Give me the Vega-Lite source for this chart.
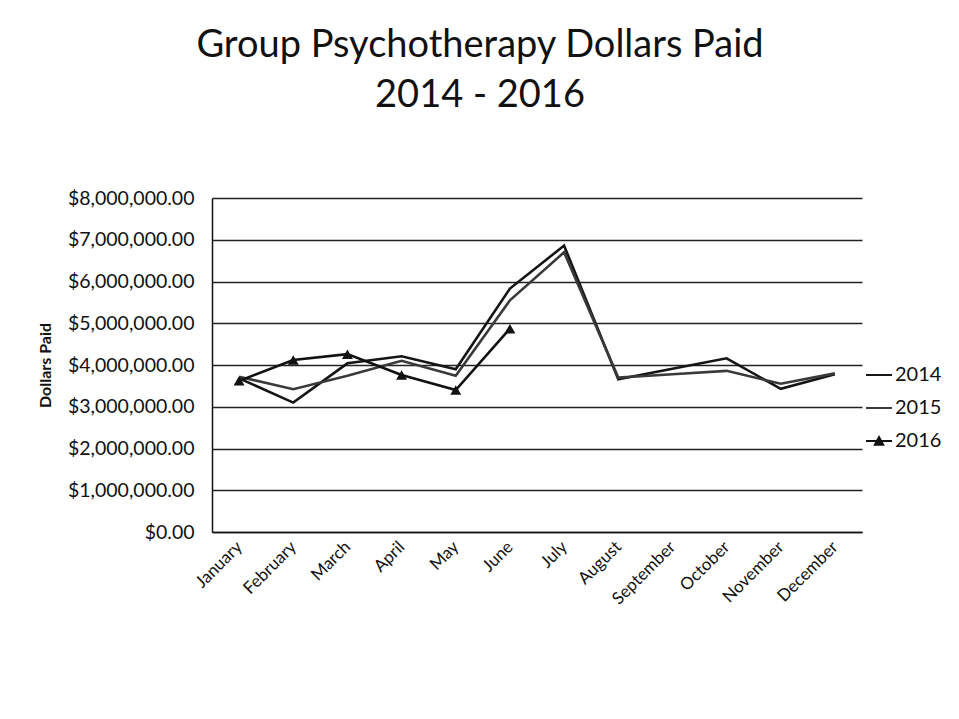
{
  "$schema": "https://vega.github.io/schema/vega-lite/v6.json",
  "width": 650,
  "height": 334,
  "autosize": {"type": "none"},
  "padding": {"left": 212, "top": 198, "right": 97, "bottom": 187},
  "background": "white",
  "config": {
    "font": "Lato",
    "view": {"stroke": null},
    "axis": {"labelColor": "#111", "titleColor": "#111"}
  },
  "title": {
    "text": ["Group Psychotherapy Dollars Paid", "2014 - 2016"],
    "fontSize": 38,
    "fontWeight": "normal",
    "font": "Lato",
    "color": "#111",
    "anchor": "middle",
    "dx": -57,
    "offset": 73,
    "lineHeight": 50
  },
  "data": {
    "values": [
      {"month": "January", "year": "2014", "paid": 3680000},
      {"month": "February", "year": "2014", "paid": 3100000},
      {"month": "March", "year": "2014", "paid": 4040000},
      {"month": "April", "year": "2014", "paid": 4210000},
      {"month": "May", "year": "2014", "paid": 3900000},
      {"month": "June", "year": "2014", "paid": 5830000},
      {"month": "July", "year": "2014", "paid": 6860000},
      {"month": "August", "year": "2014", "paid": 3660000},
      {"month": "September", "year": "2014", "paid": 3910000},
      {"month": "October", "year": "2014", "paid": 4160000},
      {"month": "November", "year": "2014", "paid": 3430000},
      {"month": "December", "year": "2014", "paid": 3780000},
      {"month": "January", "year": "2015", "paid": 3720000},
      {"month": "February", "year": "2015", "paid": 3420000},
      {"month": "March", "year": "2015", "paid": 3740000},
      {"month": "April", "year": "2015", "paid": 4100000},
      {"month": "May", "year": "2015", "paid": 3740000},
      {"month": "June", "year": "2015", "paid": 5550000},
      {"month": "July", "year": "2015", "paid": 6700000},
      {"month": "August", "year": "2015", "paid": 3700000},
      {"month": "September", "year": "2015", "paid": 3780000},
      {"month": "October", "year": "2015", "paid": 3860000},
      {"month": "November", "year": "2015", "paid": 3550000},
      {"month": "December", "year": "2015", "paid": 3800000},
      {"month": "January", "year": "2016", "paid": 3620000},
      {"month": "February", "year": "2016", "paid": 4120000},
      {"month": "March", "year": "2016", "paid": 4260000},
      {"month": "April", "year": "2016", "paid": 3760000},
      {"month": "May", "year": "2016", "paid": 3400000},
      {"month": "June", "year": "2016", "paid": 4870000}
    ]
  },
  "encoding": {
    "x": {
      "field": "month",
      "type": "ordinal",
      "sort": ["January", "February", "March", "April", "May", "June", "July", "August", "September", "October", "November", "December"],
      "scale": {"type": "point", "padding": 0.5},
      "axis": {
        "title": null,
        "labelAngle": -45,
        "labelAlign": "right",
        "labelBaseline": "middle",
        "labelFontSize": 17,
        "labelPadding": 12,
        "labelOverlap": false,
        "ticks": false,
        "domainColor": "#111",
        "domainWidth": 1.5,
        "grid": false
      }
    },
    "y": {
      "field": "paid",
      "type": "quantitative",
      "scale": {"domain": [0, 8000000], "nice": false},
      "axis": {
        "title": "Dollars Paid",
        "titleFontSize": 16,
        "titleFontWeight": "bold",
        "titlePadding": 14,
        "format": "$,.2f",
        "values": [0, 1000000, 2000000, 3000000, 4000000, 5000000, 6000000, 7000000, 8000000],
        "labelOverlap": false,
        "labelFontSize": 19.5,
        "labelPadding": 18,
        "ticks": false,
        "domainColor": "#111",
        "domainWidth": 1.5,
        "grid": true,
        "gridColor": "#222",
        "gridWidth": 1.3
      }
    }
  },
  "layer": [
    {
      "mark": {"type": "line", "strokeWidth": 2.6},
      "encoding": {
        "color": {
          "field": "year",
          "type": "nominal",
          "scale": {"domain": ["2014", "2015", "2016"], "range": ["#151515", "#3a3a3a", "#111111"]},
          "legend": {
            "title": null,
            "orient": "none",
            "legendX": 653,
            "legendY": 163,
            "symbolSize": 676,
            "symbolStrokeWidth": 2,
            "labelFontSize": 20,
            "labelColor": "#111",
            "labelOffset": 2,
            "rowPadding": 9,
            "encode": {
              "symbols": {
                "update": {
                  "shape": {"signal": "datum.value == '2016' ? 'M-1,0H1M-0.32,0.28L0,-0.3L0.32,0.28Z' : 'M-1,0H1'"},
                  "fill": {"value": "#111"},
                  "stroke": {"value": "#111"},
                  "strokeWidth": {"value": 2},
                  "opacity": {"value": 1}
                }
              }
            }
          }
        }
      }
    },
    {
      "transform": [{"filter": "datum.year == '2016'"}],
      "mark": {"type": "point", "shape": "triangle-up", "filled": true, "size": 120, "color": "#111", "opacity": 1}
    }
  ]
}
